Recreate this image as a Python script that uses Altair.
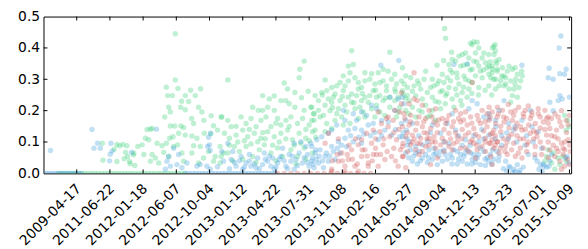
import altair as alt
import pandas as pd

# ---- axis ticks / labels -------------------------------------------------
x_tick_values = [100, 200, 300, 400, 500, 600, 700, 800, 900, 1000,
                 1100, 1200, 1300, 1400, 1500, 1584]
x_tick_labels = ["2009-04-17", "2011-06-22", "2012-01-18", "2012-06-07",
                 "2012-10-04", "2013-01-12", "2013-04-22", "2013-07-31",
                 "2013-11-08", "2014-02-16", "2014-05-27", "2014-09-04",
                 "2014-12-13", "2015-03-23", "2015-07-01", "2015-10-09"]
y_tick_values = [0.0, 0.1, 0.2, 0.3, 0.4, 0.5]

# ---- series: runs of zero values (x positions) ----------------------------
green_zero_x = [45, 55, 65, 75, 85, 95, 105, 115, 125, 135, 145, 155, 165, 175,
                185, 195, 205, 215, 225, 235, 245, 255, 265, 275, 285, 295, 305,
                315, 325, 335, 345, 355, 365, 375, 385, 395, 405, 415, 425]
blue_zero_x = [2, 10, 18, 26, 34, 42, 50, 58, 66, 74, 82, 90, 98, 106, 114,
               428, 438, 448, 458, 468, 478, 488, 498, 508, 518, 528, 538, 548,
               558, 568, 578, 588, 598, 608, 618, 628, 638, 648, 658, 668, 678,
               688, 698]
red_zero_x = [705, 725, 745, 765, 785, 805, 825, 845, 865, 885,
              905, 925, 945, 965, 985]

# ---- series: non-zero points (x, y) --------------------------------------
green_points = [
    (177, .096), (179, .042), (213, .077), (221, .092), (221, .038), (229, .088), (239, .092),
    (251, .088), (247, .067), (253, .054), (259, .038), (261, .031), (271, .059), (275, .025), (243, .047),
    (397, .445), (397, .298), (370, .275), (405, .271), (443, .265), (473, .270), (374, .248), (388, .248),
    (427, .248), (457, .248), (416, .230), (437, .229), (377, .211), (413, .211), (427, .203), (467, .211),
    (382, .196), (365, .180), (477, .196), (446, .175), (483, .169), (452, .159), (505, .184), (537, .180),
    (382, .151), (395, .151), (414, .151), (422, .146), (512, .152), (524, .138), (322, .141), (312, .140),
    (327, .143), (407, .128), (427, .122), (447, .119), (484, .128), (504, .126), (307, .112), (317, .107),
    (380, .112), (390, .117), (462, .112), (297, .091), (284, .086), (342, .096), (357, .088), (370, .096),
    (392, .086), (404, .091), (452, .088), (472, .086), (532, .086), (272, .065), (302, .060), (327, .060),
    (337, .049), (362, .067), (377, .054), (417, .065), (447, .065), (497, .070), (517, .054), (542, .065),
    (322, .039), (347, .033), (422, .039), (467, .033), (482, .049), (512, .039), (532, .033),
    (785, .358), (772, .332), (770, .305), (555, .298), (725, .288), (735, .269), (757, .258), (777, .241),
    (797, .262), (715, .232), (695, .247), (680, .237), (660, .248), (630, .211), (647, .201), (660, .201),
    (675, .211), (695, .201), (730, .232), (740, .222), (757, .211), (785, .201), (805, .211), (815, .190),
    (535, .180), (555, .169), (565, .149), (595, .180), (610, .159), (625, .175), (640, .149), (655, .169),
    (670, .180), (685, .149), (705, .175), (715, .154), (730, .169), (745, .180), (765, .159), (780, .175),
    (800, .154), (815, .169), (545, .128), (560, .112), (580, .122), (600, .138), (615, .117), (635, .128),
    (655, .112), (675, .133), (695, .117), (715, .128), (735, .138), (750, .107), (770, .128), (790, .112),
    (810, .133), (535, .054), (555, .065), (575, .086), (590, .070), (610, .086), (630, .054), (650, .075),
    (665, .091), (685, .065), (705, .081), (720, .054), (745, .075), (765, .054), (785, .081), (810, .065),
    (928, .391), (1043, .386), (933, .347), (918, .342), (848, .298), (1023, .332), (968, .321), (988, .318),
    (1008, .321), (1038, .326), (1058, .316), (903, .311), (923, .321), (938, .305), (868, .274), (893, .290),
    (908, .279), (948, .290), (968, .295), (998, .285), (1023, .295), (1048, .300), (1078, .295), (818, .248),
    (838, .258), (858, .237), (878, .253), (903, .264), (928, .253), (948, .269), (968, .243), (993, .264),
    (1013, .248), (1033, .264), (1058, .269), (1083, .253), (808, .211), (828, .201), (848, .217), (868, .227),
    (888, .206), (908, .217), (928, .227), (953, .211), (978, .227), (1003, .217), (1023, .232), (1058, .232),
    (1073, .211), (808, .169), (833, .180), (853, .159), (878, .169), (898, .180), (923, .159), (948, .175),
    (968, .180), (998, .180), (1028, .185), (1063, .180), (818, .138), (848, .133), (868, .143), (903, .154),
    (1208, .462), (1211, .431), (1229, .386), (1286, .415), (1296, .420), (1306, .418), (1291, .410), (1311, .400),
    (1356, .405), (1261, .379), (1281, .368), (1301, .384), (1321, .368), (1341, .379), (1361, .391), (1221, .347),
    (1241, .358), (1256, .342), (1276, .347), (1291, .332), (1311, .342), (1331, .353), (1351, .342), (1366, .332),
    (1201, .316), (1216, .305), (1231, .321), (1246, .305), (1266, .311), (1281, .295), (1301, .311), (1321, .305),
    (1341, .316), (1356, .300), (1081, .337), (1091, .311), (1106, .305), (1126, .295), (1151, .326), (1171, .300),
    (1191, .295), (1081, .264), (1096, .274), (1116, .279), (1136, .269), (1156, .258), (1176, .279), (1201, .264),
    (1221, .274), (1241, .269), (1261, .258), (1281, .269), (1311, .274), (1341, .279), (1361, .269), (1101, .232),
    (1121, .248), (1141, .237), (1171, .243), (1191, .227), (1211, .248), (1231, .237), (1256, .232), (1276, .243),
    (1091, .201), (1111, .211), (1131, .201), (1151, .217), (1171, .201), (1196, .206), (1121, .180), (1156, .180),
    (1181, .169),
    (1360, .410), (1352, .400), (1357, .379), (1362, .358), (1372, .363), (1342, .342), (1352, .332), (1367, .326),
    (1382, .337), (1397, .326), (1412, .332), (1427, .316), (1442, .311), (1347, .305), (1362, .300), (1377, .295),
    (1392, .305), (1407, .295), (1422, .300), (1437, .295), (1387, .279), (1402, .269), (1417, .269), (1432, .274),
    (1412, .248), (1427, .243), (1407, .227), (1569, .185), (1579, .169), (1584, .149), (1574, .138), (1520, .075),
    (1535, .065), (1550, .049), (1515, .054), (1530, .033), (1555, .028), (1574, .039), (1540, .013), (1510, .039),
    (1565, .054),
]
green_points_dense = [
    (813, .190), (843, .185), (863, .200), (883, .190), (913, .196), (938, .206), (963, .196), (988, .206),
    (1013, .196), (1043, .211), (1068, .196), (828, .232), (853, .264), (873, .243), (893, .232), (918, .243),
    (943, .248), (958, .232), (983, .248), (1003, .243), (1043, .243), (1068, .243), (883, .279), (918, .295),
    (958, .274), (983, .300), (1013, .290), (1033, .279), (1063, .285), (1086, .285), (1096, .248), (1111, .262),
    (1131, .285), (1146, .300), (1166, .274), (1186, .285), (1206, .290), (1226, .295), (1251, .285), (1271, .300),
    (1291, .290), (1316, .326), (1336, .337), (1351, .321), (1231, .363), (1251, .374), (1271, .384), (1296, .358),
    (1326, .384), (1386, .311), (1402, .342), (1420, .337), (1440, .326), (1392, .285), (1420, .285), (1372, .279),
    (1100, .190), (1140, .196), (1165, .185), (1210, .222), (1236, .211), (1260, .217),
    (560, .090), (585, .100), (605, .104), (625, .094), (645, .101), (668, .110), (690, .090), (710, .100),
    (730, .110), (755, .090), (775, .096), (800, .104), (820, .115), (570, .040), (600, .045), (640, .035),
    (700, .040), (760, .030), (790, .045), (580, .150), (620, .140), (660, .130), (700, .160), (740, .150),
    (790, .140),
    (1185, .345), (1205, .360), (1225, .330), (1245, .320), (1265, .345), (1285, .330), (1305, .355), (1325, .330),
    (1345, .355), (1365, .350), (1380, .310), (1195, .260), (1215, .255), (1245, .250), (1265, .275), (1290, .255),
    (1310, .250), (1330, .265), (1350, .250), (1180, .230), (1090, .240), (1060, .260), (1030, .240), (1000, .265),
    (960, .255), (935, .225), (900, .245), (870, .210), (840, .250),
]

blue_points = [
    (21, .073), (146, .140), (152, .080), (163, .096), (171, .080), (199, .040), (201, .061), (203, .096),
    (207, .071), (265, .067),
    (340, .141), (372, .039), (382, .023), (402, .028), (417, .018), (432, .033), (367, .013), (462, .023),
    (472, .028), (492, .023), (502, .013), (524, .021), (542, .039), (377, .054), (537, .070), (502, .073),
    (494, .086), (500, .091), (392, .080), (407, .060), (497, .115), (503, .128),
    (555, .096), (565, .044), (580, .023), (595, .054), (610, .033), (625, .023), (645, .049), (665, .065),
    (675, .039), (685, .023), (695, .013), (705, .033), (715, .054), (730, .023), (745, .039), (755, .013),
    (770, .065), (780, .033), (790, .086), (800, .023), (810, .049), (820, .075), (775, .101), (755, .096),
    (805, .096), (570, .070), (600, .013), (620, .060), (640, .018), (660, .028), (690, .049), (720, .080),
    (740, .060), (760, .044), (795, .060), (815, .018),
    (988, .217), (1003, .206), (973, .185), (958, .196), (943, .169), (933, .190), (908, .169), (903, .201),
    (883, .154), (868, .138), (858, .128), (838, .117), (823, .107), (808, .086), (818, .065), (833, .075),
    (848, .054), (808, .039), (828, .033), (843, .018), (868, .086), (888, .101), (908, .112), (918, .138),
    (938, .143), (958, .138), (978, .154), (993, .159), (1018, .169), (1038, .164), (1058, .201), (1078, .159),
    (1093, .138), (1028, .138), (1048, .122), (1073, .117), (1008, .107), (958, .096), (933, .101), (893, .065),
    (878, .044), (858, .039), (1043, .243), (1068, .237), (1070, .360), (1016, .345),
    (1081, .243), (1086, .222), (1091, .169), (1111, .159), (1081, .117), (1101, .101), (1121, .086), (1141, .091),
    (1161, .075), (1181, .065), (1206, .075), (1226, .060), (1246, .070), (1266, .054), (1286, .065), (1306, .049),
    (1326, .070), (1346, .060), (1366, .070), (1111, .039), (1141, .049), (1171, .044), (1201, .039), (1231, .049),
    (1261, .039), (1291, .044), (1316, .028), (1341, .039), (1091, .065), (1121, .065), (1206, .101), (1241, .138),
    (1281, .206), (1291, .232), (1306, .222), (1326, .180), (1341, .190), (1361, .169), (1231, .190), (1216, .159),
    (1196, .128), (1171, .154), (1156, .101), (1271, .107), (1311, .101), (1341, .122), (1236, .347), (1276, .349),
    (1558, .438), (1553, .400), (1523, .335), (1574, .332), (1520, .305), (1535, .300), (1555, .318), (1569, .316),
    (1555, .248), (1562, .237), (1550, .232), (1584, .243), (1525, .227), (1535, .200), (1342, .175), (1372, .201),
    (1387, .232), (1362, .149), (1401, .159), (1416, .138), (1441, .169), (1466, .201), (1471, .149), (1490, .133),
    (1441, .345), (1352, .075), (1372, .054), (1392, .039), (1402, .023), (1417, .013), (1427, .028), (1412, .002),
    (1432, .002), (1487, .039), (1497, .028), (1507, .023), (1492, .013), (1502, .007), (1522, .023), (1572, .049),
    (1582, .033), (1577, .054), (1385, .015), (1395, .008), (1405, .018), (1420, .005), (1435, .010), (1445, .020),
    (1505, .030), (1515, .020), (1525, .040),
]
blue_points_dense = [
    (560, .015), (575, .035), (590, .040), (605, .020), (620, .040), (635, .030), (650, .015), (668, .045),
    (680, .055), (700, .020), (710, .045), (725, .040), (735, .015), (750, .055), (765, .025), (785, .050),
    (795, .035), (812, .030), (822, .045), (830, .055), (840, .040), (852, .065), (862, .055), (873, .070),
    (885, .080), (898, .090), (913, .085), (925, .120), (950, .115), (965, .125), (985, .120), (998, .130),
    (1018, .120), (1060, .140), (1083, .130), (1096, .090), (1106, .075), (1131, .070), (1151, .060), (1176, .080),
    (1191, .055), (1216, .045), (1236, .075), (1256, .060), (1276, .075), (1296, .060), (1316, .080), (1336, .050),
    (1356, .045), (1126, .030), (1156, .035), (1186, .028), (1246, .030), (1276, .030), (1301, .035), (1331, .025),
    (1221, .095), (1261, .090), (1296, .120), (1326, .110), (1380, .090), (1400, .110), (1425, .100), (1450, .090),
    (1475, .100), (1500, .080), (1380, .120), (1455, .120),
    (1100, .050), (1115, .055), (1135, .040), (1160, .050), (1175, .060), (1195, .070), (1210, .060), (1230, .030),
    (1250, .045), (1270, .065), (1290, .030), (1310, .060), (1330, .045), (1350, .030), (1370, .040), (1095, .110),
    (1130, .120), (1165, .130), (1250, .120), (1285, .090), (1320, .140), (1360, .110), (1395, .130), (1420, .150),
    (1460, .060), (1480, .050), (1530, .060),
]

red_points = [
    (1078, .257), (1058, .201), (1073, .196), (1088, .175), (1078, .222), (1053, .169), (1033, .175), (1008, .196),
    (1018, .159), (1038, .149), (898, .065), (918, .044), (938, .023), (958, .054), (978, .033), (993, .060),
    (1008, .023), (1028, .044), (1048, .054), (1068, .023), (1083, .054), (908, .023), (888, .039), (868, .013),
    (928, .075), (948, .091), (968, .075), (988, .096), (1003, .060), (1023, .091), (1043, .117), (1063, .107),
    (1083, .096), (958, .107), (973, .128), (993, .138), (1013, .133), (1038, .180), (908, .007), (948, .007),
    (868, .007), (978, .023), (858, .128), (848, .096), (888, .110),
    (1116, .321), (1291, .290), (1116, .237), (1126, .232), (1141, .217), (1101, .222), (1161, .201), (1181, .206),
    (1086, .190), (1106, .185), (1131, .180), (1151, .175), (1176, .164), (1201, .175), (1221, .185), (1241, .201),
    (1256, .190), (1271, .196), (1286, .180), (1306, .185), (1321, .201), (1336, .190), (1351, .196), (1366, .180),
    (1081, .149), (1101, .154), (1121, .138), (1141, .149), (1166, .143), (1186, .154), (1211, .159), (1231, .149),
    (1256, .164), (1276, .154), (1296, .143), (1316, .159), (1336, .149), (1356, .138),
    (1091, .117), (1111, .122), (1136, .112), (1156, .128), (1176, .117), (1201, .112), (1221, .128), (1246, .117),
    (1271, .122), (1291, .107), (1311, .117), (1331, .112), (1351, .107), (1366, .101),
    (1081, .086), (1106, .091), (1126, .096), (1151, .086), (1171, .101), (1196, .091), (1221, .086), (1246, .101),
    (1271, .081), (1296, .096), (1321, .086), (1346, .096),
    (1081, .054), (1131, .060), (1166, .028), (1186, .049), (1301, .049), (1351, .028), (1091, .018),
    (1342, .211), (1367, .211), (1382, .201), (1407, .196), (1431, .211), (1451, .201), (1471, .196), (1490, .206),
    (1510, .201), (1530, .175), (1550, .180), (1574, .169), (1584, .185),
    (1342, .169), (1362, .159), (1387, .164), (1412, .169), (1436, .149), (1461, .154), (1481, .159), (1505, .164),
    (1525, .143), (1545, .138),
    (1352, .128), (1377, .133), (1401, .117), (1421, .143), (1441, .138), (1466, .128), (1486, .117), (1515, .122),
    (1540, .117), (1560, .096), (1580, .107),
    (1342, .096), (1367, .101), (1391, .086), (1416, .096), (1436, .081), (1456, .091), (1481, .086), (1505, .081),
    (1525, .075), (1550, .070), (1570, .075), (1587, .070),
    (1347, .054), (1372, .065), (1397, .060), (1421, .054), (1441, .049), (1540, .054), (1555, .039), (1569, .023),
    (1584, .028), (1560, .013),
]
red_points_dense = [
    (1096, .130), (1116, .110), (1146, .130), (1161, .112), (1186, .130), (1206, .140), (1226, .110), (1241, .130),
    (1261, .140), (1281, .130), (1301, .125), (1326, .135), (1346, .125), (1361, .120), (1096, .070), (1121, .075),
    (1141, .070), (1161, .090), (1181, .080), (1206, .070), (1231, .075), (1256, .080), (1281, .070), (1306, .075),
    (1331, .070), (1356, .080), (1376, .080), (1396, .100), (1426, .120), (1446, .110), (1476, .110), (1496, .100),
    (1520, .100), (1535, .090), (1377, .150), (1402, .145), (1426, .160), (1451, .140), (1476, .135), (1496, .145),
    (1520, .160), (1560, .150), (1575, .130), (1386, .180), (1416, .185), (1446, .180), (1466, .175), (1496, .180),
    (1520, .180), (1400, .220), (1460, .215), (1560, .200), (1570, .100), (1585, .090), (1565, .060), (1578, .045),
    (870, .040), (885, .060), (900, .040), (915, .060), (930, .045), (945, .030), (960, .075), (975, .055),
    (990, .040), (1000, .080), (1015, .060), (1035, .070), (1055, .080), (1060, .040), (1075, .075), (920, .090),
    (940, .110), (1000, .110), (1025, .110), (1055, .130), (1070, .140),
    (1105, .165), (1125, .160), (1145, .165), (1170, .180), (1190, .170), (1215, .170), (1235, .165), (1250, .175),
    (1265, .170), (1290, .160), (1310, .170), (1330, .165), (1345, .180), (1370, .190), (1395, .175), (1420, .200),
    (1445, .190), (1470, .185), (1490, .190), (1515, .175), (1540, .190), (1555, .165), (1580, .155),
    (1110, .100), (1135, .095), (1155, .110), (1180, .100), (1210, .100), (1235, .095), (1260, .110), (1285, .100),
    (1305, .090), (1330, .100), (1360, .090), (1385, .110), (1410, .125), (1435, .110), (1460, .100), (1485, .130),
    (1510, .140), (1530, .120), (1550, .110), (1390, .070), (1410, .075), (1430, .065), (1455, .070), (1480, .060),
    (1500, .060), (1520, .050), (1545, .080), (1565, .080),
]

series_names = ["green", "blue", "red"]
series_colors = ["#2ecc71", "#3498db", "#cc4a48"]

rows = []
for k, (name, zeros, pts) in enumerate([
        ("green", green_zero_x, green_points + green_points_dense),
        ("blue", blue_zero_x, blue_points + blue_points_dense),
        ("red", red_zero_x, red_points + red_points_dense)]):
    for x in zeros:
        rows.append({"x": x, "y": 0.0, "s": name, "k": k})
    for x, y in pts:
        rows.append({"x": x, "y": y, "s": name, "k": k})
df = pd.DataFrame(rows)

W, H = 535, 159
xscale = alt.Scale(domain=[0, 1589], nice=False, zero=False)
yscale = alt.Scale(domain=[0, 0.5], nice=False, zero=False)

label_arr = "[" + ",".join("'%s'" % s for s in x_tick_labels) + "]"
val_arr = "[" + ",".join(str(v) for v in x_tick_values) + "]"
label_expr = label_arr + "[indexof(" + val_arr + ", datum.value)]"

x_axis = alt.Axis(values=x_tick_values, labelExpr=label_expr, ticks=False,
                  domain=False, grid=False, title=None, labelAngle=-45,
                  labelAlign="right", labelBaseline="top", labelPadding=8,
                  labelOffset=-3, labelOverlap=False, labelFlush=False)
y_axis = alt.Axis(values=y_tick_values, format=".1f", ticks=False, domain=False,
                  grid=False, title=None, labelPadding=4, labelOverlap=False)

points = alt.Chart(df).mark_circle(size=30, opacity=0.3, clip=True).encode(
    x=alt.X("x:Q", scale=xscale, axis=x_axis),
    y=alt.Y("y:Q", scale=yscale, axis=y_axis),
    color=alt.Color("s:N", scale=alt.Scale(domain=series_names, range=series_colors), legend=None),
    order=alt.Order("k:Q"),
)

xt = pd.DataFrame({"x": x_tick_values})
yt = pd.DataFrame({"y": y_tick_values[1:-1]})

tick_bottom = alt.Chart(xt).mark_rule(color="black", strokeWidth=1).encode(
    x=alt.X("x:Q", scale=xscale, axis=x_axis), y=alt.value(H), y2=alt.value(H - 4))
tick_top = alt.Chart(xt).mark_rule(color="black", strokeWidth=1).encode(
    x=alt.X("x:Q", scale=xscale, axis=x_axis), y=alt.value(0), y2=alt.value(4))
tick_left = alt.Chart(yt).mark_rule(color="black", strokeWidth=1).encode(
    y=alt.Y("y:Q", scale=yscale, axis=y_axis), x=alt.value(0), x2=alt.value(4))
tick_right = alt.Chart(yt).mark_rule(color="black", strokeWidth=1).encode(
    y=alt.Y("y:Q", scale=yscale, axis=y_axis), x=alt.value(W), x2=alt.value(W - 4))

chart = alt.layer(points, tick_bottom, tick_top, tick_left, tick_right).properties(
    width=W, height=H,
    autosize=alt.AutoSizeParams(type="none"),
    padding={"left": 36, "top": 7, "right": 9, "bottom": 75},
).configure_view(
    stroke="black", strokeWidth=1
).configure_axis(
    labelFont="DejaVu Sans", labelFontSize=14, labelColor="black"
)

chart.save("out.html", embed_options={"renderer": "svg", "actions": False})
